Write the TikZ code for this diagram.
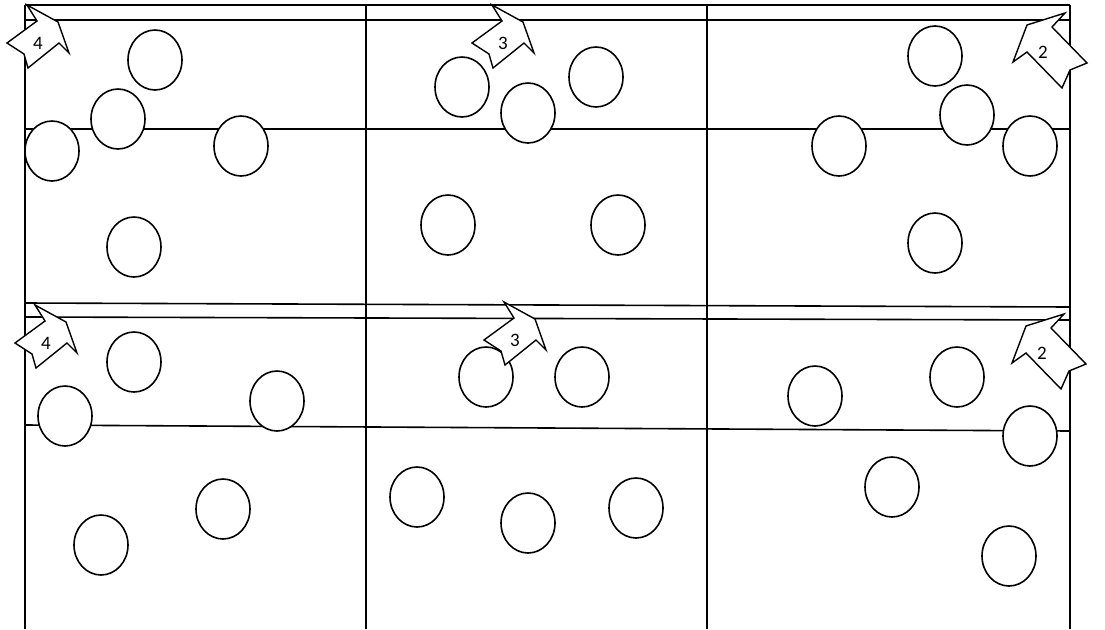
\documentclass[tikz,border=0pt]{standalone}
\usepackage{fontspec}
\setmainfont{Carlito}
\usetikzlibrary{shapes.geometric}

\begin{document}
\begin{tikzpicture}[
  x=1pt,y=-1pt,
  grid/.style={line width=1.6pt,black},
  ball/.style={ellipse,draw,fill=white,line width=1.6pt,
    minimum width=54,minimum height=60,inner sep=0pt},
  tag/.style={draw,fill=white,line width=1.4pt,line join=miter},
  num/.style={font=\fontsize{19}{21}\selectfont,inner sep=0pt},
  pics/arrowL/.style={code={
    \draw[tag] (0,0) -- (31,17) -- (42,48) -- (32,38) -- (1,63)
      -- (-3,49) -- (-20,38) -- (10,16) -- cycle;
    \node[num] (-num) at (11,38) {#1};}},
  pics/arrowR/.style={code={
    \draw[tag] (0,0) -- (-38,12) -- (-52,49) -- (-38,39) -- (-3,75)
      -- (5,57) -- (22,50) -- (-13,14) -- cycle;
    \node[num] (-num) at (-22,39) {#1};}}
]
\useasboundingbox (0,0) rectangle (1105,629);

% frame and rows
\draw[grid] (25,5) -- (1070,5);
\draw[grid] (25,20) -- (1070,20);
\draw[grid] (25,129) -- (1070,129);
\draw[grid] (25,303) -- (1070,307);
\draw[grid] (25,317) -- (1070,320);
\draw[grid] (25,425) -- (1070,431);
% columns
\draw[grid] (25,5) -- (25,629);
\draw[grid] (366,5) -- (366,629);
\draw[grid] (707,5) -- (707,629);
\draw[grid] (1070,5) -- (1070,629);

% top-left panel
\node[ball] (c1) at (155,60) {};
\node[ball] (c2) at (118,119) {};
\node[ball] (c3) at (52,151) {};
\node[ball] (c4) at (241,146) {};
\node[ball] (c5) at (134,247) {};
% top-middle panel
\node[ball] (c6) at (462,87) {};
\node[ball] (c7) at (596,77) {};
\node[ball] (c8) at (528,113) {};
\node[ball] (c9) at (448,225) {};
\node[ball] (c10) at (618,225) {};
% top-right panel
\node[ball] (c11) at (935,56) {};
\node[ball] (c12) at (967,115) {};
\node[ball] (c13) at (839,146) {};
\node[ball] (c14) at (1030,146) {};
\node[ball] (c15) at (935,243) {};
% bottom-left panel
\node[ball] (c16) at (134,362) {};
\node[ball] (c17) at (65,416) {};
\node[ball] (c18) at (277,401) {};
\node[ball] (c19) at (223,509) {};
\node[ball] (c20) at (101,545) {};
% bottom-middle panel
\node[ball] (c21) at (486,377) {};
\node[ball] (c22) at (582,377) {};
\node[ball] (c23) at (417,497) {};
\node[ball] (c24) at (528,523) {};
\node[ball] (c25) at (636,508) {};
% bottom-right panel
\node[ball] (c26) at (815,396) {};
\node[ball] (c27) at (957,377) {};
\node[ball] (c28) at (1030,436) {};
\node[ball] (c29) at (892,487) {};
\node[ball] (c30) at (1009,556) {};

% corner arrows
\pic (t4) at (27,5) {arrowL=4};
\pic (t3) at (492,5) {arrowL=3};
\pic (t2) at (1065,13) {arrowR=2};
\pic (b4) at (35,305) {arrowL=4};
\pic (b3) at (504,302) {arrowL=3};
\pic (b2) at (1064,314) {arrowR=2};
\end{tikzpicture}
\end{document}
